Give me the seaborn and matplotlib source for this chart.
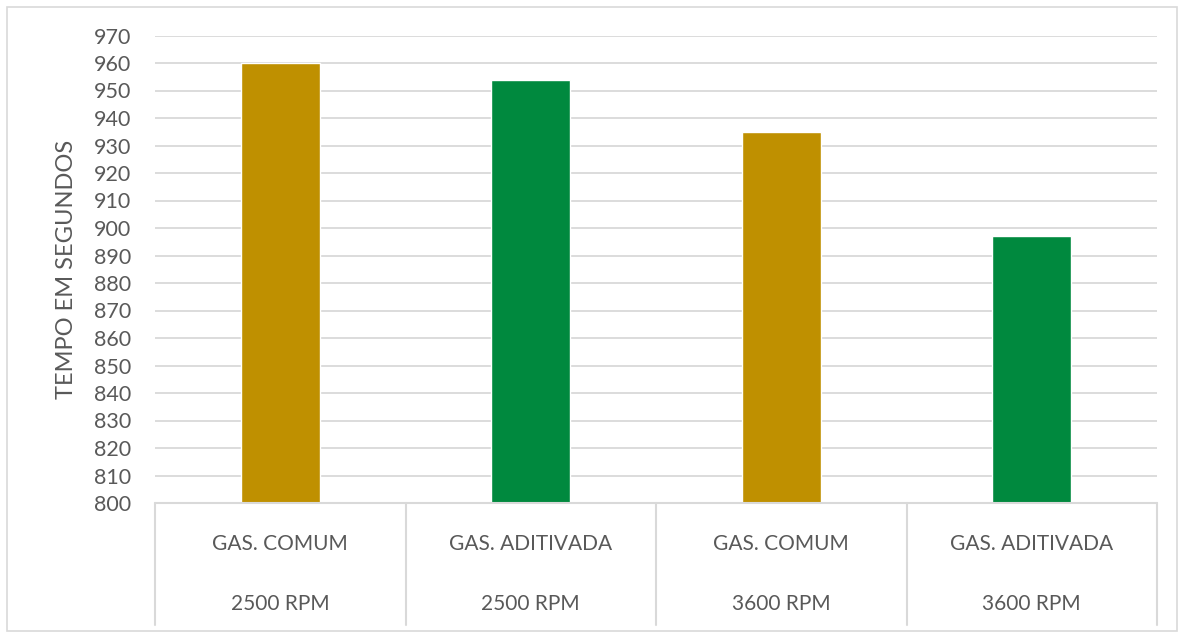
import matplotlib
matplotlib.use("Agg")
import matplotlib.pyplot as plt
import seaborn as sns
import pandas as pd
from matplotlib.lines import Line2D
from matplotlib.patches import Rectangle

# Data
fuels = ["GAS. COMUM", "GAS. ADITIVADA", "GAS. COMUM", "GAS. ADITIVADA"]
speeds = ["2500 RPM", "2500 RPM", "3600 RPM", "3600 RPM"]
times = [960, 954, 935, 897]
colors = ["#BF9000", "#00893E", "#BF9000", "#00893E"]
y_ticks = list(range(800, 971, 10))

keys = [f"{f}|{s}" for f, s in zip(fuels, speeds)]
df = pd.DataFrame({"key": keys, "tempo": times})

sns.set_theme(style="white")
plt.rcParams["font.family"] = ["Lato", "DejaVu Sans"]
text_color = "#595959"
grid_color = "#D9D9D9"

fig = plt.figure(figsize=(11.83, 6.35), dpi=100)
ax = fig.add_axes([155 / 1183, 132 / 635, (1157 - 155) / 1183, (503 - 35.5) / 635])

sns.barplot(data=df, x="key", y="tempo", hue="key", palette=colors,
            width=0.315, legend=False, ax=ax, saturation=1)

ax.set_ylim(800, 970)
ax.set_yticks(y_ticks)
ax.set_yticklabels([str(t) for t in y_ticks], fontsize=15.5, color=text_color)
ax.tick_params(axis="y", length=0, pad=17)
ax.set_xticks([])
ax.set_xlabel("")
ax.set_ylabel("TEMPO EM SEGUNDOS", fontsize=17, color=text_color, labelpad=12)
ax.yaxis.grid(True, color=grid_color, linewidth=1.3)
ax.set_axisbelow(True)
for s in ax.spines.values():
    s.set_visible(False)
ax.set_xlim(-0.5, 3.5)

# Multi-level category axis
trans = ax.get_xaxis_transform()
span = 503 - 35.5
axis_bottom_frac = (503 - 625) / span
ax.add_line(Line2D([-0.5, 3.5], [0, 0], transform=trans, color=grid_color,
                   linewidth=1.5, clip_on=False))
for xb in [-0.5, 0.5, 1.5, 2.5, 3.5]:
    ax.add_line(Line2D([xb, xb], [0, axis_bottom_frac], transform=trans,
                       color=grid_color, linewidth=1.5, clip_on=False))
lvl1_y = (503 - 544) / span
lvl2_y = (503 - 604) / span
for i, (f, s) in enumerate(zip(fuels, speeds)):
    ax.text(i, lvl1_y, f, transform=trans, ha="center", va="center",
            fontsize=15, color=text_color)
    ax.text(i, lvl2_y, s, transform=trans, ha="center", va="center",
            fontsize=15, color=text_color)

# Outer chart border
fig.patches.append(Rectangle((7 / 1183, 4 / 635), 1170 / 1183, 624 / 635,
                             transform=fig.transFigure, fill=False,
                             edgecolor=grid_color, linewidth=1.2))

fig.savefig("out.png", dpi=100)
